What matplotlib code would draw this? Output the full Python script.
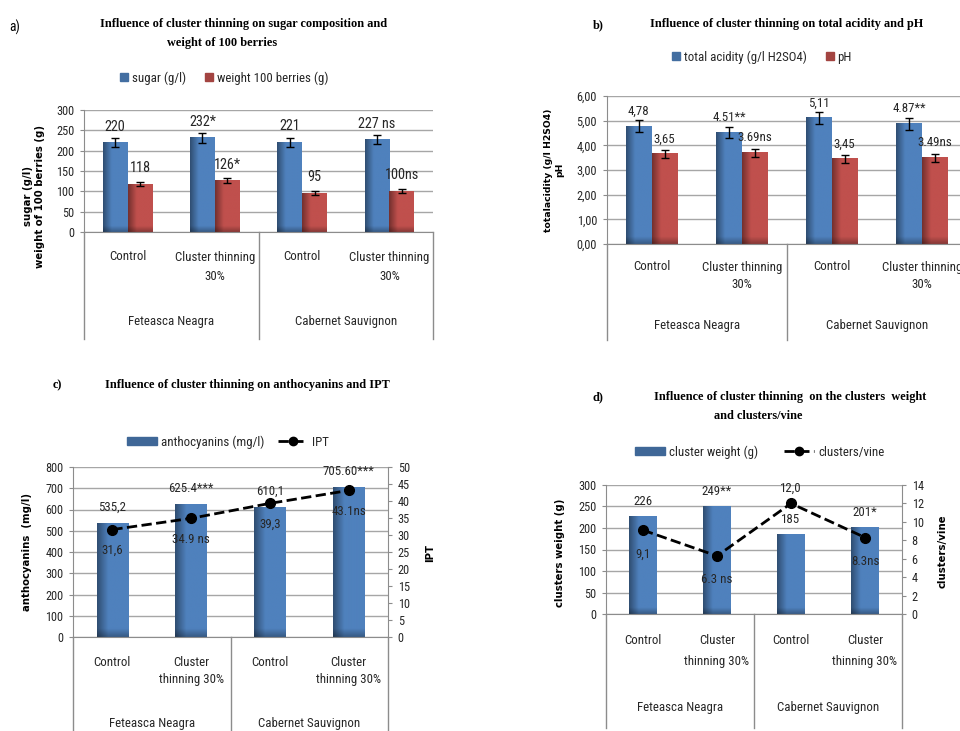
# four panels: cluster thinning effects (sugar, acidity, anthocyanins, cluster weight)
import numpy as np
import matplotlib.pyplot as plt
import matplotlib.transforms as mtransforms
from matplotlib import font_manager
from matplotlib.lines import Line2D
from matplotlib.patches import Patch
from matplotlib.ticker import FuncFormatter

#%% data
groups = ['Feteasca Neagra', 'Cabernet Sauvignon']
treat_ab = ['Control', 'Cluster thinning\n30%', 'Control', 'Cluster thinning\n30%']
treat_cd = ['Control', 'Cluster\nthinning 30%', 'Control', 'Cluster\nthinning 30%']

sugar = [220, 232, 221, 227]
sugar_err = [11, 12, 11, 11]
sugar_lbl = ['220', '232*', '221', '227 ns']
berries = [118, 126, 95, 100]
berries_err = [6, 6, 5, 5]
berries_lbl = ['118', '126*', '95', '100ns']

acidity = [4.78, 4.51, 5.11, 4.87]
acidity_err = [0.24, 0.23, 0.26, 0.24]
acidity_lbl = ['4,78', '4.51**', '5,11', '4.87**']
ph = [3.65, 3.69, 3.45, 3.49]
ph_err = [0.18, 0.18, 0.17, 0.17]
ph_lbl = ['3,65', '3.69ns', '3,45', '3.49ns']

antho = [535.2, 625.4, 610.1, 705.6]
antho_lbl = ['535,2', '625.4***', '610,1', '705.60***']
ipt = [31.6, 34.9, 39.3, 43.1]
ipt_lbl = ['31,6', '34.9 ns', '39,3', '43.1ns']

cl_weight = [226, 249, 185, 201]
cl_weight_lbl = ['226', '249**', '185', '201*']
cl_vine = [9.1, 6.3, 12.0, 8.3]
cl_vine_lbl = ['9,1', '6.3 ns', '12,0', '8.3ns']

#%% style
names = {f.name for f in font_manager.fontManager.ttflist}
SANS, K = 'Lato', 0.88
for cand, k in [('Liberation Sans Narrow', 1.0), ('Roboto Condensed', 0.93),
                ('Open Sans Condensed', 0.93)]:
    if cand in names:
        SANS, K = cand, k
        break
SERIF = 'Liberation Serif'
BOLD = 'DejaVu Sans'
plt.rcParams['font.family'] = SANS

BLUE = np.array([79, 129, 189]) / 255
RED = np.array([192, 80, 77]) / 255
GRID = '#A6A6A6'
AXC = '#8C8C8C'
TXT = '#262626'
FS_TICK = 9.5 * K
FS_CAT = 10 * K
FS_VAL = 10 * K
FS_TITLE = 8.8

W, H = 960, 731
fig = plt.figure(figsize=(9.6, 7.31), dpi=100)


def px_rect(x0, y0, x1, y1):
    return [x0 / W, 1 - y1 / H, (x1 - x0) / W, (y1 - y0) / H]


def fx(x):
    return x / W


def fy(y):
    return 1 - y / H


def shaded_bars(ax, x, h, width, color, ytop):
    bars = ax.bar(x, h, width, color=color, zorder=2)
    t = np.linspace(0, 1, 60)
    f = np.clip(0.6 + 0.4 * t / 0.35, 0, 1)
    for b in bars:
        x0, w, hh = b.get_x(), b.get_width(), b.get_height()
        band = 0.05 * ytop / hh
        s = np.linspace(0, 1, 300)
        g = np.clip(0.7 + 0.3 * s / band, 0, 1)
        img = np.clip(color[None, None, :] * f[None, :, None] * g[:, None, None], 0, 1)
        ax.imshow(img, extent=[x0, x0 + w, 0, hh], origin='lower', aspect='auto',
                  zorder=2.1, interpolation='bilinear')
    return bars


def style_axis(ax, ymax, step):
    ax.set_xlim(-0.5, 3.5)
    ax.set_ylim(0, ymax)
    ax.set_yticks(np.arange(0, ymax + step / 2, step))
    ax.yaxis.grid(True, color=GRID, lw=1)
    ax.set_axisbelow(True)
    ax.spines['top'].set_visible(False)
    ax.spines['right'].set_visible(False)
    ax.spines['left'].set_color(AXC)
    ax.spines['bottom'].set_color(AXC)
    ax.set_xticks([])
    ax.tick_params(axis='y', length=3, color=AXC, labelsize=FS_TICK, labelcolor=TXT, pad=4)
    ax.patch.set_alpha(0)


def categories(ax, treats, y_line1, dy, y_group, y_bottom, y_axis):
    tr = mtransforms.blended_transform_factory(ax.transData, fig.transFigure)
    for i, t in enumerate(treats):
        for k, line in enumerate(t.split('\n')):
            ax.text(i, fy(y_line1 + k * dy), line, transform=tr, ha='center', va='center',
                    fontsize=FS_CAT, color=TXT)
    for j, g in enumerate(groups):
        ax.text(2 * j + 0.5, fy(y_group), g, transform=tr, ha='center', va='center',
                fontsize=FS_CAT, color=TXT)
    for xb in [-0.5, 1.5, 3.5]:
        ax.plot([xb, xb], [fy(y_axis), fy(y_bottom)], transform=tr, color=AXC, lw=1,
                clip_on=False)


def values(ax, x, v, lbls, off, fs=FS_VAL):
    for xi, vi, s in zip(x, v, lbls):
        ax.annotate(s, (xi, vi), xytext=(0, off), textcoords='offset pixels',
                    ha='center', va='center', fontsize=fs, color=TXT, zorder=6)


def ylabel(xp, yp, s, fs=7.3):
    fig.text(fx(xp), fy(yp), s, rotation=90, ha='center', va='center', family=BOLD,
             fontsize=fs, fontweight='bold', linespacing=1.25, color='black')


def title(xp, yp, s):
    fig.text(fx(xp), fy(yp), s, family=SERIF, fontweight='bold', fontsize=FS_TITLE,
             ha='center', va='center')


x = np.arange(4)

#%% a) sugar and berries
ax = fig.add_axes(px_rect(84, 110, 433, 232))
bw = 0.285
shaded_bars(ax, x - bw / 2, sugar, bw, BLUE, 300)
shaded_bars(ax, x + bw / 2, berries, bw, RED, 300)
ax.errorbar(x - bw / 2, sugar, yerr=sugar_err, fmt='none', ecolor='black', elinewidth=1,
            capsize=3, zorder=4)
ax.errorbar(x + bw / 2, berries, yerr=berries_err, fmt='none', ecolor='black', elinewidth=1,
            capsize=3, zorder=4)
style_axis(ax, 300, 50)
values(ax, x - bw / 2, sugar, sugar_lbl, 16, fs=11 * K)
values(ax, x + bw / 2, berries, berries_lbl, 16, fs=11 * K)
categories(ax, treat_ab, 257, 20, 321, 339, 232)
ax.legend([Patch(color=BLUE * 0.85), Patch(color=RED * 0.85)],
          ['sugar (g/l)', 'weight 100 berries (g)'], loc='center',
          bbox_to_anchor=(fx(224), fy(78)), bbox_transform=fig.transFigure, ncol=2,
          frameon=False, fontsize=FS_CAT, handlelength=0.6, handleheight=0.6,
          handletextpad=0.3, columnspacing=1.5, labelcolor=TXT)
ylabel(34, 196, 'sugar (g/l)\nweight of 100 berries (g)')
fig.text(fx(15), fy(27), 'a)', ha='center', va='center', fontsize=10.5 * K)
title(244, 24, 'Influence of cluster thinning on sugar composition and')
title(222, 43, 'weight of 100 berries')

#%% b) acidity and pH
ax = fig.add_axes(px_rect(606.7, 96, 966.7, 244))
shaded_bars(ax, x - bw / 2, acidity, bw, BLUE, 6)
shaded_bars(ax, x + bw / 2, ph, bw, RED, 6)
ax.errorbar(x - bw / 2, acidity, yerr=acidity_err, fmt='none', ecolor='black', elinewidth=1,
            capsize=3, zorder=4)
ax.errorbar(x + bw / 2, ph, yerr=ph_err, fmt='none', ecolor='black', elinewidth=1,
            capsize=3, zorder=4)
style_axis(ax, 6, 1)
ax.yaxis.set_major_formatter(FuncFormatter(lambda v, p: f'{v:.2f}'.replace('.', ',')))
values(ax, x - bw / 2, acidity, acidity_lbl, 15)
values(ax, x + bw / 2, ph, ph_lbl, 15)
categories(ax, treat_ab, 267, 18, 325, 340, 244)
ax.legend([Patch(color=BLUE * 0.85), Patch(color=RED * 0.85)],
          ['total acidity (g/l H2SO4)', 'pH'], loc='center',
          bbox_to_anchor=(fx(762), fy(57)), bbox_transform=fig.transFigure, ncol=2,
          frameon=False, fontsize=FS_CAT, handlelength=0.6, handleheight=0.6,
          handletextpad=0.3, columnspacing=1.5, labelcolor=TXT)
ylabel(554, 170, 'totalacidity (g/l H2SO4)\npH', fs=6.7)
fig.text(fx(598), fy(25), 'b)', family=SERIF, fontweight='bold', fontsize=FS_TITLE,
         ha='center', va='center')
title(787, 24, 'Influence of cluster thinning on total acidity and pH')

#%% c) anthocyanins and IPT
ax = fig.add_axes(px_rect(73, 467, 388, 637))
shaded_bars(ax, x, antho, 0.4, BLUE, 800)
style_axis(ax, 800, 100)
values(ax, x, antho, antho_lbl, 16)
categories(ax, treat_cd, 662, 18, 723, 731, 637)
ax2 = ax.twinx()
ax2.set_ylim(0, 50)
ax2.set_yticks(np.arange(0, 51, 5))
for s in ['top', 'left', 'bottom']:
    ax2.spines[s].set_visible(False)
ax2.spines['right'].set_color(AXC)
ax2.tick_params(axis='y', length=3, color=AXC, labelsize=FS_TICK, labelcolor=TXT, pad=4)
ax2.plot(x, ipt, ls='--', color='black', lw=2, marker='o', ms=7, zorder=5)
values(ax2, x, ipt, ipt_lbl, -21)
ax.legend([Patch(color=BLUE * 0.8), Line2D([], [], color='black', ls='--', lw=2,
                                            marker='o', ms=6)],
          ['anthocyanins (mg/l)', 'IPT'], loc='center',
          bbox_to_anchor=(fx(228), fy(442)), bbox_transform=fig.transFigure, ncol=2,
          frameon=False, fontsize=FS_CAT, handlelength=2.3, handleheight=0.55,
          handletextpad=0.35, columnspacing=1.0, labelcolor=TXT)
ylabel(27, 552, 'anthocyanins  (mg/l)')
ylabel(430, 553, 'IPT')
fig.text(fx(57), fy(385), 'c)', family=SERIF, fontweight='bold', fontsize=FS_TITLE,
         ha='center', va='center')
title(247, 385, 'Influence of cluster thinning on anthocyanins and IPT')

#%% d) cluster weight and clusters/vine
ax = fig.add_axes(px_rect(606, 485, 902, 614))
shaded_bars(ax, x, cl_weight, 0.37, BLUE, 300)
style_axis(ax, 300, 50)
values(ax, x, cl_weight, cl_weight_lbl, 15)
categories(ax, treat_cd, 641, 21, 708, 728, 614)
ax2 = ax.twinx()
ax2.set_ylim(0, 14)
ax2.set_yticks(np.arange(0, 15, 2))
for s in ['top', 'left', 'bottom']:
    ax2.spines[s].set_visible(False)
ax2.spines['right'].set_color(AXC)
ax2.tick_params(axis='y', length=3, color=AXC, labelsize=FS_TICK, labelcolor=TXT, pad=4)
ax2.plot(x, cl_vine, ls='--', color='black', lw=2, marker='o', ms=7, zorder=5)
vine_pos = ['below', 'below', 'above', 'below']
for xi, vi, s, p in zip(x, cl_vine, cl_vine_lbl, vine_pos):
    values(ax2, [xi], [vi], [s], 15 if p == 'above' else -24)
ax.legend([Patch(color=BLUE * 0.8), Line2D([], [], color='black', ls='--', lw=2,
                                            marker='o', ms=6)],
          ['cluster weight (g)', 'clusters/vine'], loc='center',
          bbox_to_anchor=(fx(760), fy(452)), bbox_transform=fig.transFigure, ncol=2,
          frameon=False, fontsize=FS_CAT, handlelength=2.3, handleheight=0.55,
          handletextpad=0.35, columnspacing=2.0, labelcolor=TXT)
ylabel(560, 553, 'clusters weight (g)')
ylabel(943, 551, 'clusters/vine')
fig.text(fx(598), fy(397), 'd)', family=SERIF, fontweight='bold', fontsize=FS_TITLE,
         ha='center', va='center')
title(790, 397, 'Influence of cluster thinning  on the clusters  weight')
title(758, 416, 'and clusters/vine')

fig.savefig('out.png', dpi=100)
